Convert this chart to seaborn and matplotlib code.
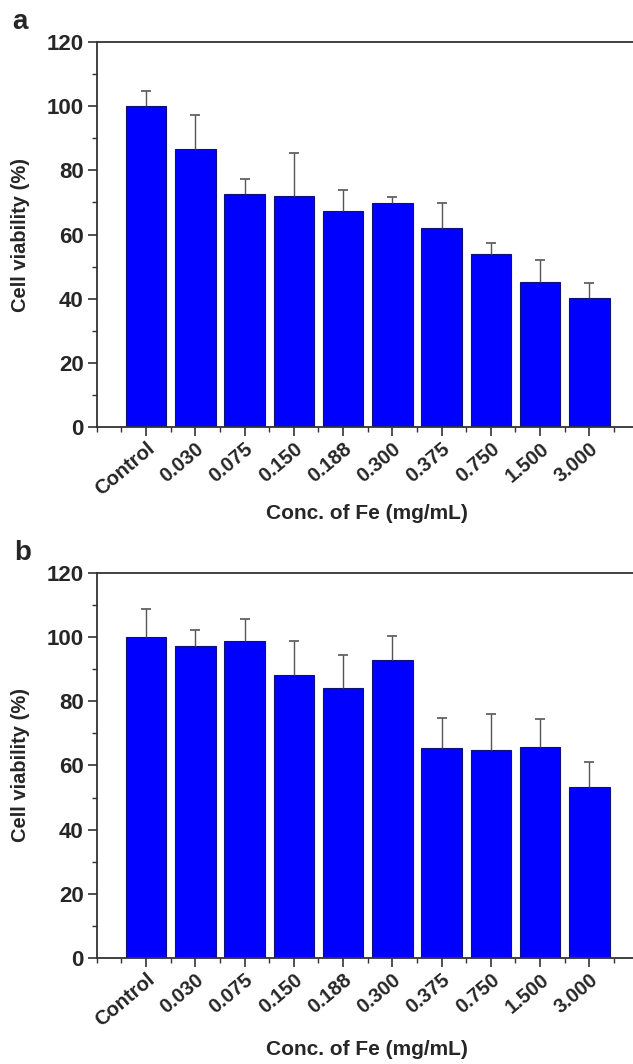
import matplotlib
matplotlib.use("Agg")
import matplotlib.pyplot as plt
from matplotlib.ticker import MultipleLocator
import seaborn as sns
import pandas as pd
import numpy as np

# Values
conc = ["Control", "0.030", "0.075", "0.150", "0.188",
        "0.300", "0.375", "0.750", "1.500", "3.000"]
viab_a = [100.0, 86.5, 72.6, 71.9, 67.2, 69.7, 62.1, 54.0, 45.1, 40.1]
err_a = [4.7, 10.6, 4.6, 13.5, 6.7, 1.9, 7.7, 3.4, 6.9, 4.7]
viab_b = [100.0, 97.3, 98.7, 88.3, 84.3, 93.0, 65.4, 64.8, 65.7, 53.2]
err_b = [8.7, 5.0, 7.1, 10.4, 10.2, 7.4, 9.4, 11.1, 8.8, 7.8]

sns.set_style("ticks")
plt.rcParams['font.family'] = ['Liberation Sans', 'DejaVu Sans']
plt.rcParams['font.weight'] = 'bold'

fig = plt.figure(figsize=(6.33, 10.64), dpi=100)
ax_a = fig.add_axes([0.153, 0.5987, 0.852, 0.3618])
ax_b = fig.add_axes([0.153, 0.0996, 0.852, 0.3619])


def draw_panel(ax, vals, errs, xlab_y):
    df = pd.DataFrame({"conc": conc, "viab": vals})
    sns.barplot(data=df, x="conc", y="viab", color="#0000ff", saturation=1,
                width=0.82, edgecolor="#10107a", linewidth=0.8, ax=ax)
    pos = np.arange(len(conc))
    vals = np.array(vals)
    errs = np.array(errs)
    # upper-only error bars, cap only at the top end
    ax.errorbar(pos, vals, yerr=[np.zeros(len(errs)), errs], fmt="none",
                ecolor="#555555", elinewidth=1.0, capsize=0, zorder=1)
    ax.plot(pos, vals + errs, ls="none", marker="_", ms=7, mew=1.2,
            color="#555555")
    ax.set_xlim(-1, 9.95)
    ax.set_ylim(0, 120)
    ax.yaxis.set_major_locator(MultipleLocator(20))
    ax.yaxis.set_minor_locator(MultipleLocator(10))
    ax.xaxis.set_minor_locator(MultipleLocator(0.5))
    ax.set_xticks(pos)
    ax.set_xticklabels(conc, rotation=40, ha="right", rotation_mode="anchor",
                       fontsize=14.5, fontweight="bold")
    for lab in ax.get_yticklabels():
        lab.set_fontsize(16)
        lab.set_fontweight("bold")
    ax.tick_params(axis="both", which="major", direction="out", length=6.5,
                   width=1.2, color="#333333")
    ax.tick_params(axis="both", which="minor", direction="out", length=3.5,
                   width=1.0, color="#333333")
    ax.tick_params(axis="y", pad=3)
    ax.tick_params(axis="x", pad=2)
    for side in ["left", "bottom", "top"]:
        ax.spines[side].set_linewidth(1.3)
        ax.spines[side].set_color("#333333")
    ax.spines["right"].set_visible(False)
    ax.set_ylabel("Cell viability (%)", fontsize=14.5, fontweight="bold")
    ax.yaxis.set_label_coords(-0.124, 0.5)
    ax.set_xlabel("Conc. of Fe (mg/mL)", fontsize=15, fontweight="bold",
                  va="top")
    ax.xaxis.set_label_coords(0.5, xlab_y)


draw_panel(ax_a, viab_a, err_a, -0.200)
draw_panel(ax_b, viab_b, err_b, -0.212)

fig.text(20 / 633, 1 - 22 / 1064, "a", fontsize=20, fontweight="bold",
         ha="center", va="center")
fig.text(23 / 633, 1 - 553 / 1064, "b", fontsize=20, fontweight="bold",
         ha="center", va="center")

fig.savefig("out.png", dpi=100)
